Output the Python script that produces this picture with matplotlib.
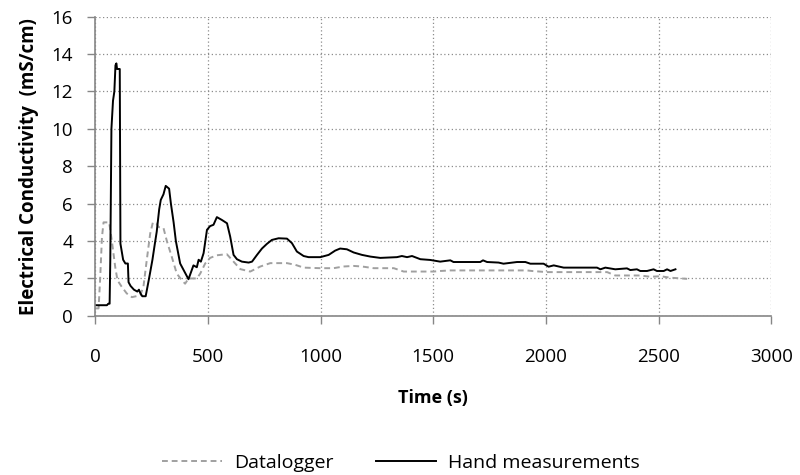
import matplotlib
matplotlib.use('Agg')
import matplotlib.pyplot as plt

plt.rcParams['font.family'] = ['Open Sans', 'DejaVu Sans']

# datalogger readings (time s, conductivity mS/cm)
logger_t = [0, 15, 22, 30, 37, 62, 74, 89, 99, 118, 140, 163, 200, 214, 229, 244, 256, 271,
            281, 303, 318, 340, 362, 385, 399, 414, 451, 466, 488, 510, 540, 584, 614, 644,
            688, 733, 777, 851, 888, 925, 999, 1058, 1102, 1147, 1184, 1236, 1325, 1369,
            1413, 1502, 1531, 1576, 1916, 1938, 2005, 2272, 2308, 2419, 2464, 2508, 2553, 2627]
logger_ec = [0.4, 0.4, 2.0, 4.2, 5.0, 5.0, 4.0, 2.6, 1.9, 1.55, 1.2, 1.0, 1.1, 1.55, 3.0, 4.4,
             5.0, 4.95, 4.75, 4.7, 4.0, 3.15, 2.26, 1.9, 1.72, 2.0, 2.0, 2.26, 2.8, 3.1, 3.24,
             3.3, 2.9, 2.5, 2.37, 2.64, 2.82, 2.82, 2.73, 2.58, 2.55, 2.55, 2.64, 2.67, 2.64,
             2.55, 2.55, 2.37, 2.37, 2.37, 2.4, 2.43, 2.43, 2.4, 2.34, 2.34, 2.16, 2.16, 2.09,
             2.12, 2.04, 1.98]

# hand measurements (time s, conductivity mS/cm)
hand_t = [0, 52, 58, 64, 67, 72, 79, 85, 90, 94, 97, 109, 112, 124, 134, 145, 148, 157, 172,
          187, 194, 201, 209, 224, 239, 254, 264, 273, 284, 291, 303, 313, 328, 336, 348,
          358, 377, 414, 436, 451, 459, 469, 481, 496, 510, 525, 540, 562, 585, 599, 614,
          629, 651, 681, 696, 718, 740, 762, 784, 814, 851, 873, 895, 925, 947, 999, 1036,
          1065, 1087, 1117, 1147, 1184, 1221, 1265, 1339, 1361, 1384, 1406, 1443, 1487,
          1531, 1576, 1590, 1709, 1721, 1739, 1790, 1812, 1872, 1909, 1931, 1990, 2012,
          2035, 2079, 2227, 2242, 2264, 2308, 2360, 2375, 2404, 2419, 2449, 2478, 2493,
          2523, 2538, 2553, 2575]
hand_ec = [0.57, 0.57, 0.65, 0.65, 3.0, 10.0, 11.5, 12.0, 13.4, 13.5, 13.2, 13.2, 3.86, 3.0,
           2.8, 2.8, 1.8, 1.6, 1.4, 1.3, 1.4, 1.2, 1.05, 1.05, 2.0, 3.0, 3.8, 4.5, 5.7, 6.2,
           6.5, 6.95, 6.8, 6.0, 5.0, 4.0, 2.8, 1.96, 2.7, 2.6, 3.0, 2.9, 3.35, 4.6, 4.8, 4.87,
           5.28, 5.13, 4.95, 4.24, 3.26, 3.03, 2.9, 2.85, 2.9, 3.26, 3.6, 3.85, 4.06, 4.15,
           4.13, 3.89, 3.44, 3.2, 3.14, 3.14, 3.26, 3.49, 3.6, 3.56, 3.39, 3.26, 3.17, 3.1,
           3.14, 3.2, 3.14, 3.2, 3.03, 2.99, 2.9, 2.97, 2.88, 2.88, 2.97, 2.88, 2.85, 2.79,
           2.88, 2.88, 2.79, 2.79, 2.63, 2.7, 2.58, 2.58, 2.49, 2.58, 2.49, 2.54, 2.45, 2.49,
           2.4, 2.4, 2.49, 2.4, 2.4, 2.49, 2.4, 2.49]

fig = plt.figure(figsize=(8, 4.75), dpi=100)
ax = fig.add_axes([0.119, 0.335, 0.845, 0.63])

ax.plot(logger_t, logger_ec, color='#a0a0a0', lw=1.4, ls=(0, (3, 2)), label='Datalogger')
ax.plot(hand_t, hand_ec, color='black', lw=1.4, label='Hand measurements')

ax.set_xlim(0, 3000)
ax.set_ylim(0, 16)
ax.set_xticks(range(0, 3001, 500))
ax.set_yticks(range(0, 17, 2))
ax.grid(True, color='#8c8c8c', ls=(0, (1, 2)), lw=0.9)
ax.set_axisbelow(True)
for s in ['top', 'right']:
    ax.spines[s].set_visible(False)
for s in ['left', 'bottom']:
    ax.spines[s].set_color('#868686')
    ax.spines[s].set_linewidth(1.2)
ax.tick_params(colors='#868686', labelcolor='black', labelsize=13.5, length=6, width=1)
ax.tick_params(axis='x', pad=17)
ax.tick_params(axis='y', pad=10)

ax.set_xlabel('Time (s)', fontsize=13, fontweight='bold')
ax.xaxis.set_label_coords(0.5, -0.245)
ax.set_ylabel('Electrical Conductivity  (mS/cm)', fontsize=13.5, fontweight='bold')
ax.yaxis.set_label_coords(-0.083, 0.5)

fig.legend(loc='center', bbox_to_anchor=(0.501, 0.025), ncol=2, frameon=False,
           fontsize=14, handlelength=3.1, handletextpad=0.6, columnspacing=2.2)

fig.savefig('out.png')
